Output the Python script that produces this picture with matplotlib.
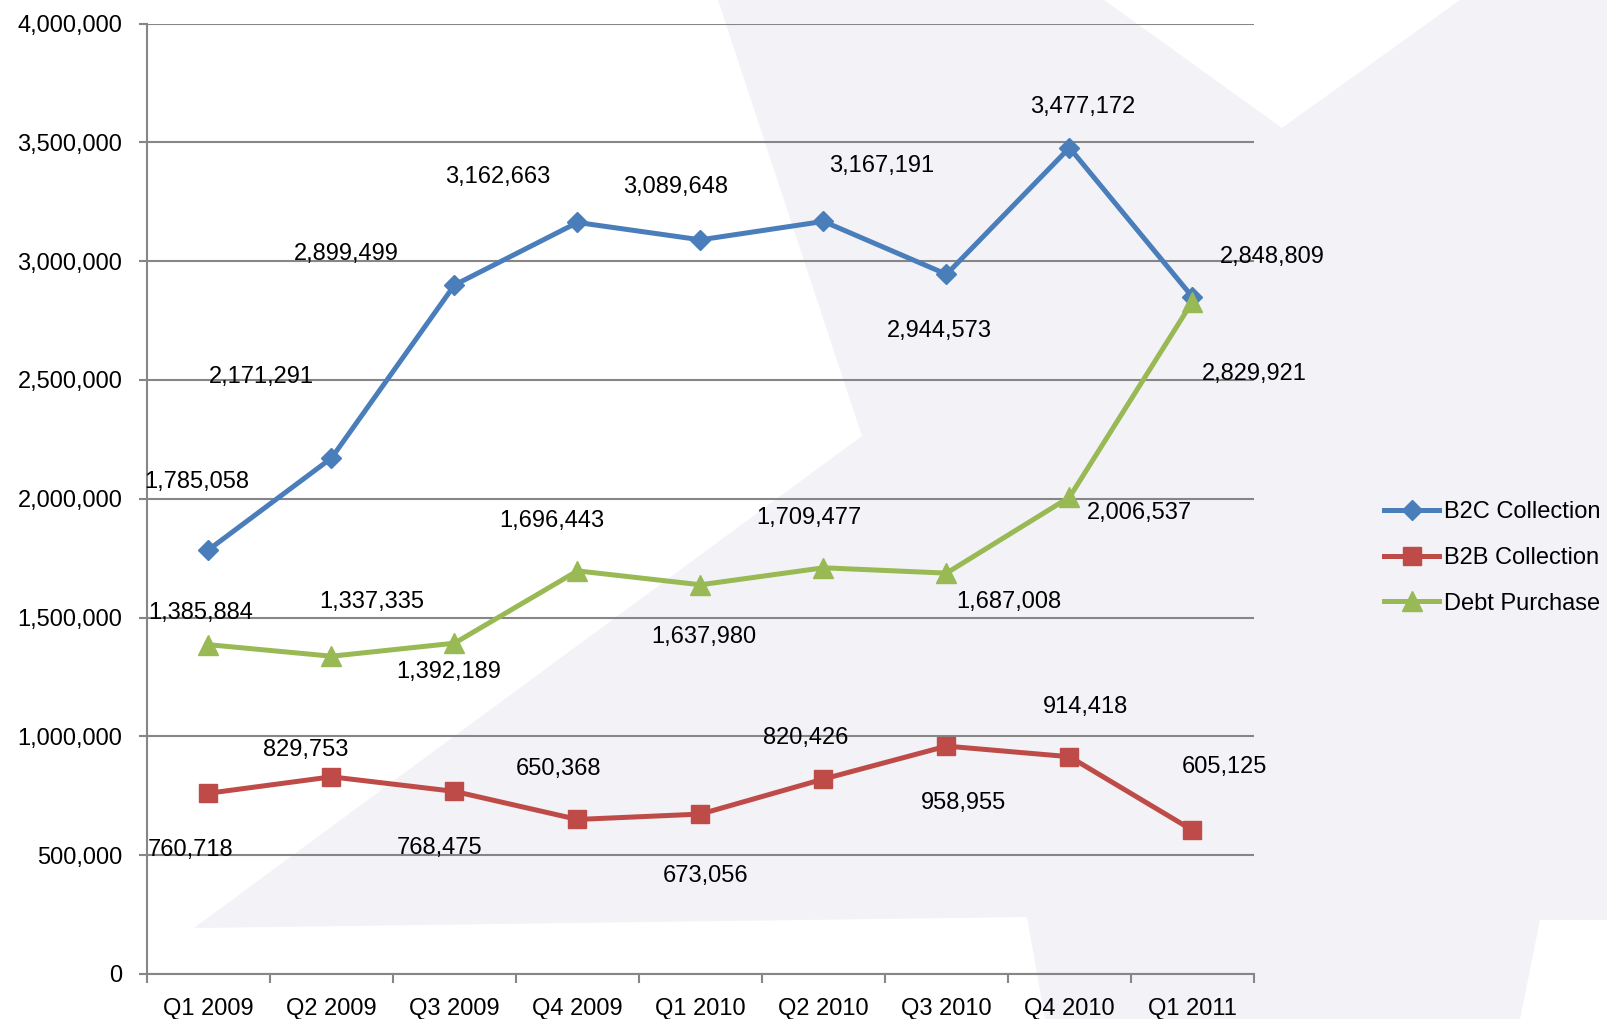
import matplotlib
matplotlib.use('Agg')
import matplotlib.pyplot as plt
from matplotlib.patches import Polygon
import numpy as np

# ---------------- data ----------------
quarters = ['Q1 2009', 'Q2 2009', 'Q3 2009', 'Q4 2009', 'Q1 2010',
            'Q2 2010', 'Q3 2010', 'Q4 2010', 'Q1 2011']
b2c = [1785058, 2171291, 2899499, 3162663, 3089648, 3167191, 2944573, 3477172, 2848809]
b2b = [760718, 829753, 768475, 650368, 673056, 820426, 958955, 914418, 605125]
debt = [1385884, 1337335, 1392189, 1696443, 1637980, 1709477, 1687008, 2006537, 2829921]
series_names = ['B2C Collection', 'B2B Collection', 'Debt Purchase']
y_ticks = [0, 500000, 1000000, 1500000, 2000000, 2500000, 3000000, 3500000, 4000000]

# label offsets in pixels (dx to the right, dy downward)
b2c_off = [(-12, -68), (-70, -81), (-108, -31), (-80, -45), (-25, -53),
           (58, -55), (-7, 57), (13, -41), (80, -40)]
b2b_off = [(-18, 57), (-26, -27), (-15, 57), (-19, -50), (5, 62),
           (-18, -41), (17, 57), (16, -50), (32, -63)]
debt_off = [(-8, -32), (40, -54), (-6, 29), (-26, -50), (3, 52),
            (-15, -50), (62, 29), (70, 16), (62, 72)]

# ---------------- style ----------------
plt.rcParams['font.family'] = ['Liberation Sans', 'DejaVu Sans']
FS = 17
GRID = '#868686'
colors = ['#4A7EBB', '#BE4B48', '#98B954']
markers = ['D', 's', '^']
msizes = [10.5, 13.5, 14.5]

W, H = 1608, 1019
fig = plt.figure(figsize=(W / 100, H / 100), dpi=100, facecolor='white')

# faint watermark shape in the background
wm = [(718, 0), (1104, 0), (1282, 128), (1460, 0), (1608, 0), (1608, 920),
      (1540, 920), (1520, 1019), (1045, 1019), (1027, 917), (194, 928),
      (862, 436)]
poly = Polygon([(x / W, 1 - y / H) for x, y in wm], closed=True,
               transform=fig.transFigure, facecolor='#F2F2F7',
               edgecolor='none', zorder=-5)
fig.add_artist(poly)

ax = fig.add_axes([147 / W, 1 - 974 / H, (1254 - 147) / W, (974 - 23.5) / H])
ax.set_facecolor('none')

x = np.arange(len(quarters))
data = [b2c, b2b, debt]
offs = [b2c_off, b2b_off, debt_off]
for vals, name, c, m, ms, off in zip(data, series_names, colors, markers, msizes, offs):
    ax.plot(x, vals, color=c, lw=3.6, marker=m, ms=ms, mfc=c, mec=c,
            label=name, zorder=3, solid_joinstyle='round')
    for xi, v, (dx, dy) in zip(x, vals, off):
        ax.annotate(f'{v:,}', (xi, v), xytext=(dx, -dy), textcoords='offset pixels',
                    ha='center', va='center', fontsize=FS, color='black', zorder=4)

ax.set_xlim(-0.5, len(quarters) - 0.5)
ax.set_ylim(0, 4000000)
ax.set_yticks(y_ticks)
ax.set_yticklabels([f'{v:,}' for v in y_ticks], fontsize=FS)
ax.yaxis.grid(True, color=GRID, lw=1.5)
ax.set_axisbelow(True)

ax.set_xticks(np.arange(len(quarters) + 1) - 0.5)
ax.set_xticklabels([''] * (len(quarters) + 1))
ax.set_xticks(x, minor=True)
ax.set_xticklabels(quarters, minor=True, fontsize=FS)
ax.tick_params(axis='x', which='major', length=6.5, width=1.5, color=GRID, direction='out')
ax.tick_params(axis='x', which='minor', length=0, pad=17.5)
ax.tick_params(axis='y', length=5.8, width=1.5, color=GRID, pad=12)

for s in ['top', 'right']:
    ax.spines[s].set_visible(False)
for s in ['left', 'bottom']:
    ax.spines[s].set_color(GRID)
    ax.spines[s].set_linewidth(1.5)

leg = fig.legend(loc='center left', bbox_to_anchor=(1384 / W, 1 - 558 / H),
                 frameon=False, fontsize=FS, handlelength=2.35, handletextpad=0.2,
                 labelspacing=1.0, borderpad=0, borderaxespad=0)

fig.savefig('out.png', dpi=100, facecolor='white')
